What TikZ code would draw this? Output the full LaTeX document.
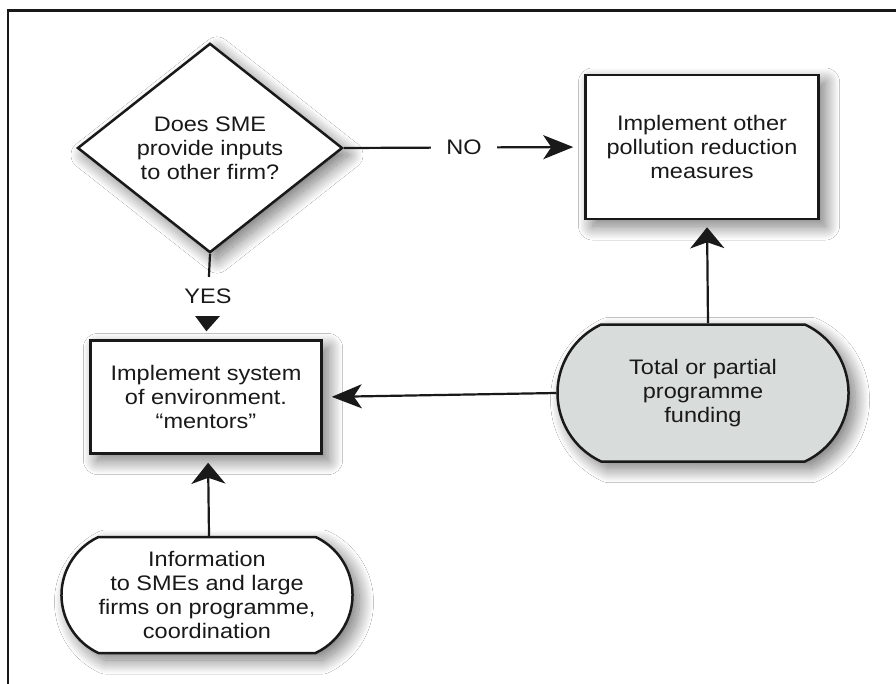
\documentclass[tikz,border=0pt]{standalone}
\usepackage{fontspec}
\setmainfont{Liberation Sans}[FakeStretch=1.12]
\usetikzlibrary{shapes.geometric,shapes.misc,arrows.meta,shadows.blur}
\definecolor{inkc}{RGB}{25,25,25}
\definecolor{fundgray}{RGB}{216,220,218}
\tikzset{
  every node/.style={font=\fontsize{21pt}{24pt}\selectfont, text=inkc},
  softshadow/.style={blur shadow={shadow xshift=7pt, shadow yshift=-7pt, shadow blur radius=14pt, shadow blur steps=30, shadow opacity=55}},
  boxnode/.style={draw=inkc, line width=2.5pt, fill=white, rectangle, align=center, inner sep=0pt, softshadow},
  decision/.style={draw=inkc, line width=2.5pt, fill=white, diamond, align=center, inner sep=0pt, softshadow},
  termnode/.style={draw=inkc, line width=2.5pt, rounded rectangle, rounded rectangle arc length=130, align=center, inner sep=0pt, softshadow},
  harrow/.style={draw=inkc, line width=2.2pt, -{Stealth[length=30pt, width=24pt, inset=8pt]}},
  varrow/.style={draw=inkc, line width=2.2pt, -{Stealth[length=21pt, width=34pt, inset=6pt]}},
  edgelabel/.style={fill=white, inner xsep=15pt, inner ysep=12pt}
}
\begin{document}
\begin{tikzpicture}[x=1pt, y=-1pt]
  \useasboundingbox (0,0) rectangle (896,683);
  \fill[white] (0,0) rectangle (896,683);
  % frame (cut off at right and bottom)
  \draw[inkc, line width=2.6pt] (8,700) -- (8,10.5) -- (910,10.5);

  \node[decision, minimum width=265pt, minimum height=179pt] (q) at (210,148)
    {Does SME\\provide inputs\\to other firm?};
  \node[boxnode, minimum width=233pt, minimum height=144pt] (other) at (702,147)
    {Implement other\\pollution reduction\\measures};
  \node[boxnode, minimum width=231pt, minimum height=113pt] (mentor) at (206,397)
    {Implement system\\of environment.\\“mentors”};
  \node[termnode, fill=fundgray, minimum width=291pt, minimum height=137pt] (fund) at (703,393)
    {Total or partial\\programme\\funding};
  \node[termnode, fill=white, minimum width=291pt, minimum height=116pt] (info) at (207,595)
    {Information\\to SMEs and large\\firms on programme,\\coordination};

  \draw[harrow, shorten >=11pt] (q.east) -- node[edgelabel] (nolab) {NO} (other.west);
  \draw[varrow, shorten >=8pt] (q.south) -- node[edgelabel, pos=0.5] (yeslab) {YES} (mentor.north);
  \draw[harrow, shorten >=9pt] (fund.west) -- (mentor.east);
  \draw[varrow, shorten >=7pt] ([xshift=5pt]fund.north) -- ([xshift=5pt]other.south);
  \draw[varrow, shorten >=8pt] ([xshift=2pt]info.north) -- ([xshift=2pt]mentor.south);
\end{tikzpicture}
\end{document}
